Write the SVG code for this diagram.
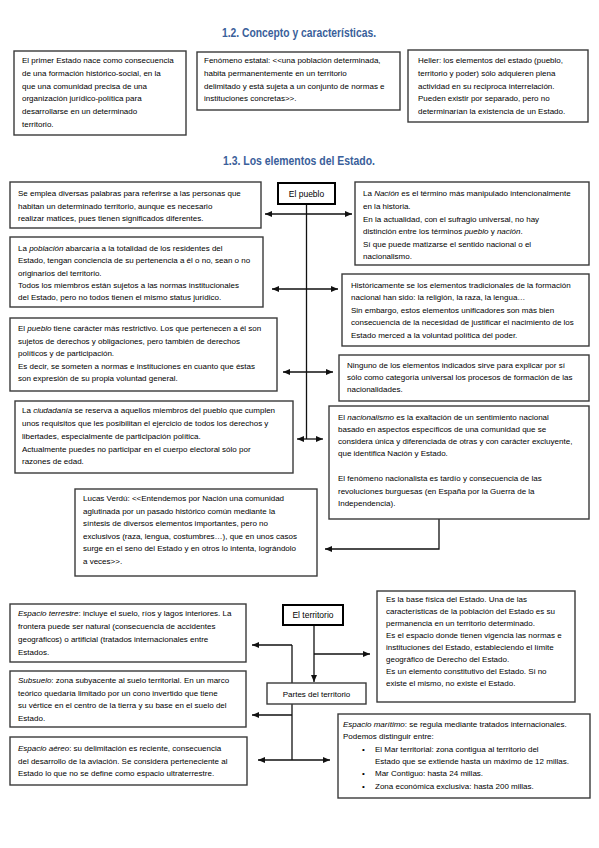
<svg xmlns="http://www.w3.org/2000/svg" width="599" height="848" viewBox="0 0 599 848">
<style>
.box{fill:#fff;stroke:#3a3a3a;stroke-width:1.4}
.hbox{fill:#fff;stroke:#000;stroke-width:2}
.t{font-family:"Liberation Sans",Arial,sans-serif;font-size:8px;fill:#000}
.h{font-family:"Liberation Sans",Arial,sans-serif;font-size:12px;font-weight:bold;fill:#3A609A}
.c{stroke:#111;stroke-width:1.3;fill:none}
.i{font-style:italic}
</style>
<defs>
<marker id="a" markerWidth="7" markerHeight="6" refX="7" refY="3" orient="auto-start-reverse" markerUnits="userSpaceOnUse"><path d="M0,0 L7,3 L0,6 z" fill="#111"/></marker>
</defs>
<rect width="599" height="848" fill="#fff"/>
<text class="h" x="299" y="37" text-anchor="middle" textLength="154" lengthAdjust="spacingAndGlyphs">1.2. Concepto y características.</text>
<text class="h" x="299" y="165" text-anchor="middle" textLength="152" lengthAdjust="spacingAndGlyphs">1.3. Los elementos del Estado.</text>

<g id="connectors">
<path class="c" d="M306.5,204 V439"/>
<line class="c" x1="265" y1="214" x2="352" y2="214" marker-start="url(#a)" marker-end="url(#a)"/>
<line class="c" x1="272" y1="289" x2="338" y2="289" marker-start="url(#a)" marker-end="url(#a)"/>
<line class="c" x1="283" y1="372" x2="333" y2="372" marker-start="url(#a)" marker-end="url(#a)"/>
<line class="c" x1="297" y1="439" x2="323" y2="439" marker-start="url(#a)" marker-end="url(#a)"/>
<path class="c" d="M439,519 V549 H325" marker-end="url(#a)"/>
<path class="c" d="M314,625 V682" marker-end="url(#a)"/>
<path class="c" d="M314,654 H370" marker-end="url(#a)"/>
<path class="c" d="M292,645 V760"/>
<path class="c" d="M292,645 H252" marker-end="url(#a)"/>
<path class="c" d="M292,715 H252" marker-end="url(#a)"/>
<line class="c" x1="258" y1="760" x2="330" y2="760" marker-start="url(#a)" marker-end="url(#a)"/>
</g>

<g id="box1">
<rect class="box" x="14" y="51" width="172" height="84"/>
<text class="t" x="22" y="63">El primer Estado nace como consecuencia</text>
<text class="t" x="22" y="76">de una formación histórico-social, en la</text>
<text class="t" x="22" y="89">que una comunidad precisa de una</text>
<text class="t" x="22" y="101">organización jurídico-política para</text>
<text class="t" x="22" y="114">desarrollarse en un determinado</text>
<text class="t" x="22" y="127">territorio.</text>
</g>
<g id="box2">
<rect class="box" x="197" y="52" width="203" height="58"/>
<text class="t" x="204" y="63">Fenómeno estatal: &lt;&lt;una población determinada,</text>
<text class="t" x="204" y="76">habita permanentemente en un territorio</text>
<text class="t" x="204" y="89">delimitado y está sujeta a un conjunto de normas e</text>
<text class="t" x="204" y="101">instituciones concretas&gt;&gt;.</text>
</g>
<g id="box3">
<rect class="box" x="408" y="50" width="180" height="72"/>
<text class="t" x="418" y="63">Heller: los elementos del estado (pueblo,</text>
<text class="t" x="418" y="76">territorio y poder) sólo adquieren plena</text>
<text class="t" x="418" y="89">actividad en su reciproca interrelación.</text>
<text class="t" x="418" y="101">Pueden existir por separado, pero no</text>
<text class="t" x="418" y="114">determinarían la existencia de un Estado.</text>
</g>

<g id="pueblo">
<rect class="hbox" x="278" y="183" width="57" height="21"/>
<text class="t" x="306.5" y="196.5" text-anchor="middle" style="font-size:8.5px">El pueblo</text>
</g>
<g id="boxA">
<rect class="box" x="10" y="182" width="251" height="46"/>
<text class="t" x="18" y="196">Se emplea diversas palabras para referirse a las personas que</text>
<text class="t" x="18" y="209">habitan un determinado territorio, aunque es necesario</text>
<text class="t" x="18" y="221">realizar matices, pues tienen significados diferentes.</text>
</g>
<g id="boxB">
<rect class="box" x="10" y="237" width="253" height="70"/>
<text class="t" x="18" y="251">La <tspan class="i">población</tspan> abarcaría a la totalidad de los residentes del</text>
<text class="t" x="18" y="263">Estado, tengan conciencia de su pertenencia a él o no, sean o no</text>
<text class="t" x="18" y="276">originarios del territorio.</text>
<text class="t" x="18" y="288">Todos los miembros están sujetos a las normas institucionales</text>
<text class="t" x="18" y="300">del Estado, pero no todos tienen el mismo status jurídico.</text>
</g>
<g id="boxC2">
<rect class="box" x="10" y="318" width="267" height="73"/>
<text class="t" x="18" y="331">El <tspan class="i">pueblo</tspan> tiene carácter más restrictivo. Los que pertenecen a él son</text>
<text class="t" x="18" y="344">sujetos de derechos y obligaciones, pero también de derechos</text>
<text class="t" x="18" y="356">políticos y de participación.</text>
<text class="t" x="18" y="369">Es decir, se someten a normas e instituciones en cuanto que éstas</text>
<text class="t" x="18" y="381">son expresión de su propia voluntad general.</text>
</g>
<g id="boxF">
<rect class="box" x="15" y="401" width="278" height="72"/>
<text class="t" x="22" y="413">La <tspan class="i">ciudadanía</tspan> se reserva a aquellos miembros del pueblo que cumplen</text>
<text class="t" x="22" y="426">unos requisitos que les posibilitan el ejercicio de todos los derechos y</text>
<text class="t" x="22" y="439">libertades, especialmente de participación política.</text>
<text class="t" x="22" y="452">Actualmente puedes no participar en el cuerpo electoral sólo por</text>
<text class="t" x="22" y="464">razones de edad.</text>
</g>
<g id="boxC">
<rect class="box" x="355" y="182" width="234" height="83"/>
<text class="t" x="363" y="196">La <tspan class="i">Nación</tspan> es el término más manipulado intencionalmente</text>
<text class="t" x="363" y="209">en la historia.</text>
<text class="t" x="363" y="222">En la actualidad, con el sufragio universal, no hay</text>
<text class="t" x="363" y="234">distinción entre los términos <tspan class="i">pueblo</tspan> y <tspan class="i">nación</tspan>.</text>
<text class="t" x="363" y="247">Sí que puede matizarse el sentido nacional o el</text>
<text class="t" x="363" y="259">nacionalismo.</text>
</g>
<g id="boxD">
<rect class="box" x="342" y="274" width="247" height="72"/>
<text class="t" x="351" y="288">Históricamente se los elementos tradicionales de la formación</text>
<text class="t" x="351" y="300">nacional han sido: la religión, la raza, la lengua…</text>
<text class="t" x="351" y="313">Sin embargo, estos elementos unificadores son más bien</text>
<text class="t" x="351" y="325">consecuencia de la necesidad de justificar el nacimiento de los</text>
<text class="t" x="351" y="338">Estado merced a la voluntad política del poder.</text>
</g>
<g id="boxE">
<rect class="box" x="339" y="355" width="250" height="46"/>
<text class="t" x="347" y="368">Ninguno de los elementos indicados sirve para explicar por sí</text>
<text class="t" x="347" y="380">sólo como categoría universal los procesos de formación de las</text>
<text class="t" x="347" y="392">nacionalidades.</text>
</g>
<g id="boxG">
<rect class="box" x="329" y="406" width="260" height="113"/>
<text class="t" x="338" y="420">El <tspan class="i">nacionalismo</tspan> es la exaltación de un sentimiento nacional</text>
<text class="t" x="338" y="432">basado en aspectos específicos de una comunidad que se</text>
<text class="t" x="338" y="444">considera única y diferenciada de otras y con carácter excluyente,</text>
<text class="t" x="338" y="456">que identifica Nación y Estado.</text>
<text class="t" x="338" y="481">El fenómeno nacionalista es tardío y consecuencia de las</text>
<text class="t" x="338" y="494">revoluciones burguesas (en España por la Guerra de la</text>
<text class="t" x="338" y="506">Independencia).</text>
</g>
<g id="boxH">
<rect class="box" x="75" y="489" width="242" height="87"/>
<text class="t" x="83" y="501">Lucas Verdú: &lt;&lt;Entendemos por Nación una comunidad</text>
<text class="t" x="83" y="514">aglutinada por un pasado histórico común mediante la</text>
<text class="t" x="83" y="526">síntesis de diversos elementos importantes, pero no</text>
<text class="t" x="83" y="539">exclusivos (raza, lengua, costumbres…), que en unos casos</text>
<text class="t" x="83" y="551">surge en el seno del Estado y en otros lo intenta, lográndolo</text>
<text class="t" x="83" y="564">a veces&gt;&gt;.</text>
</g>

<g id="territorio">
<rect class="hbox" x="283" y="605" width="60" height="20"/>
<text class="t" x="313" y="618" text-anchor="middle" style="font-size:8.5px">El territorio</text>
</g>
<g id="partes">
<rect class="box" x="267" y="683" width="99" height="21"/>
<text class="t" x="316.5" y="697" text-anchor="middle">Partes del territorio</text>
</g>
<g id="boxI">
<rect class="box" x="377" y="591" width="198" height="111"/>
<text class="t" x="386" y="602">Es la base física del Estado. Una de las</text>
<text class="t" x="386" y="614">características de la población del Estado es su</text>
<text class="t" x="386" y="626">permanencia en un territorio determinado.</text>
<text class="t" x="386" y="638">Es el espacio donde tienen vigencia las normas e</text>
<text class="t" x="386" y="650">instituciones del Estado, estableciendo el límite</text>
<text class="t" x="386" y="662">geográfico de Derecho del Estado.</text>
<text class="t" x="386" y="674">Es un elemento constitutivo del Estado. Si no</text>
<text class="t" x="386" y="686">existe el mismo, no existe el Estado.</text>
</g>
<g id="boxJ">
<rect class="box" x="10" y="604" width="236" height="58"/>
<text class="t" x="18" y="616"><tspan class="i">Espacio terrestre</tspan>: incluye el suelo, ríos y lagos interiores. La</text>
<text class="t" x="18" y="629">frontera puede ser natural (consecuencia de accidentes</text>
<text class="t" x="18" y="642">geográficos) o artificial (tratados internacionales entre</text>
<text class="t" x="18" y="655">Estados.</text>
</g>
<g id="boxK">
<rect class="box" x="10" y="671" width="236" height="56"/>
<text class="t" x="18" y="683"><tspan class="i">Subsuelo</tspan>: zona subyacente al suelo territorial. En un marco</text>
<text class="t" x="18" y="696">teórico quedaría limitado por un cono invertido que tiene</text>
<text class="t" x="18" y="708">su vértice en el centro de la tierra y su base en el suelo del</text>
<text class="t" x="18" y="721">Estado.</text>
</g>
<g id="boxL">
<rect class="box" x="10" y="737" width="237" height="48"/>
<text class="t" x="18" y="751"><tspan class="i">Espacio aéreo</tspan>: su delimitación es reciente, consecuencia</text>
<text class="t" x="18" y="764">del desarrollo de la aviación. Se considera perteneciente al</text>
<text class="t" x="18" y="776">Estado lo que no se define como espacio ultraterrestre.</text>
</g>
<g id="boxM">
<rect class="box" x="338" y="714" width="252" height="84"/>
<text class="t" x="343" y="727"><tspan class="i">Espacio marítimo</tspan>: se regula mediante tratados internacionales.</text>
<text class="t" x="343" y="739">Podemos distinguir entre:</text>
<text class="t" x="362" y="752">•</text>
<text class="t" x="375" y="752">El Mar territorial: zona contigua al territorio del</text>
<text class="t" x="375" y="764">Estado que se extiende hasta un máximo de 12 millas.</text>
<text class="t" x="362" y="776">•</text>
<text class="t" x="375" y="776">Mar Contiguo: hasta 24 millas.</text>
<text class="t" x="362" y="789">•</text>
<text class="t" x="375" y="789">Zona económica exclusiva: hasta 200 millas.</text>
</g>
</svg>
